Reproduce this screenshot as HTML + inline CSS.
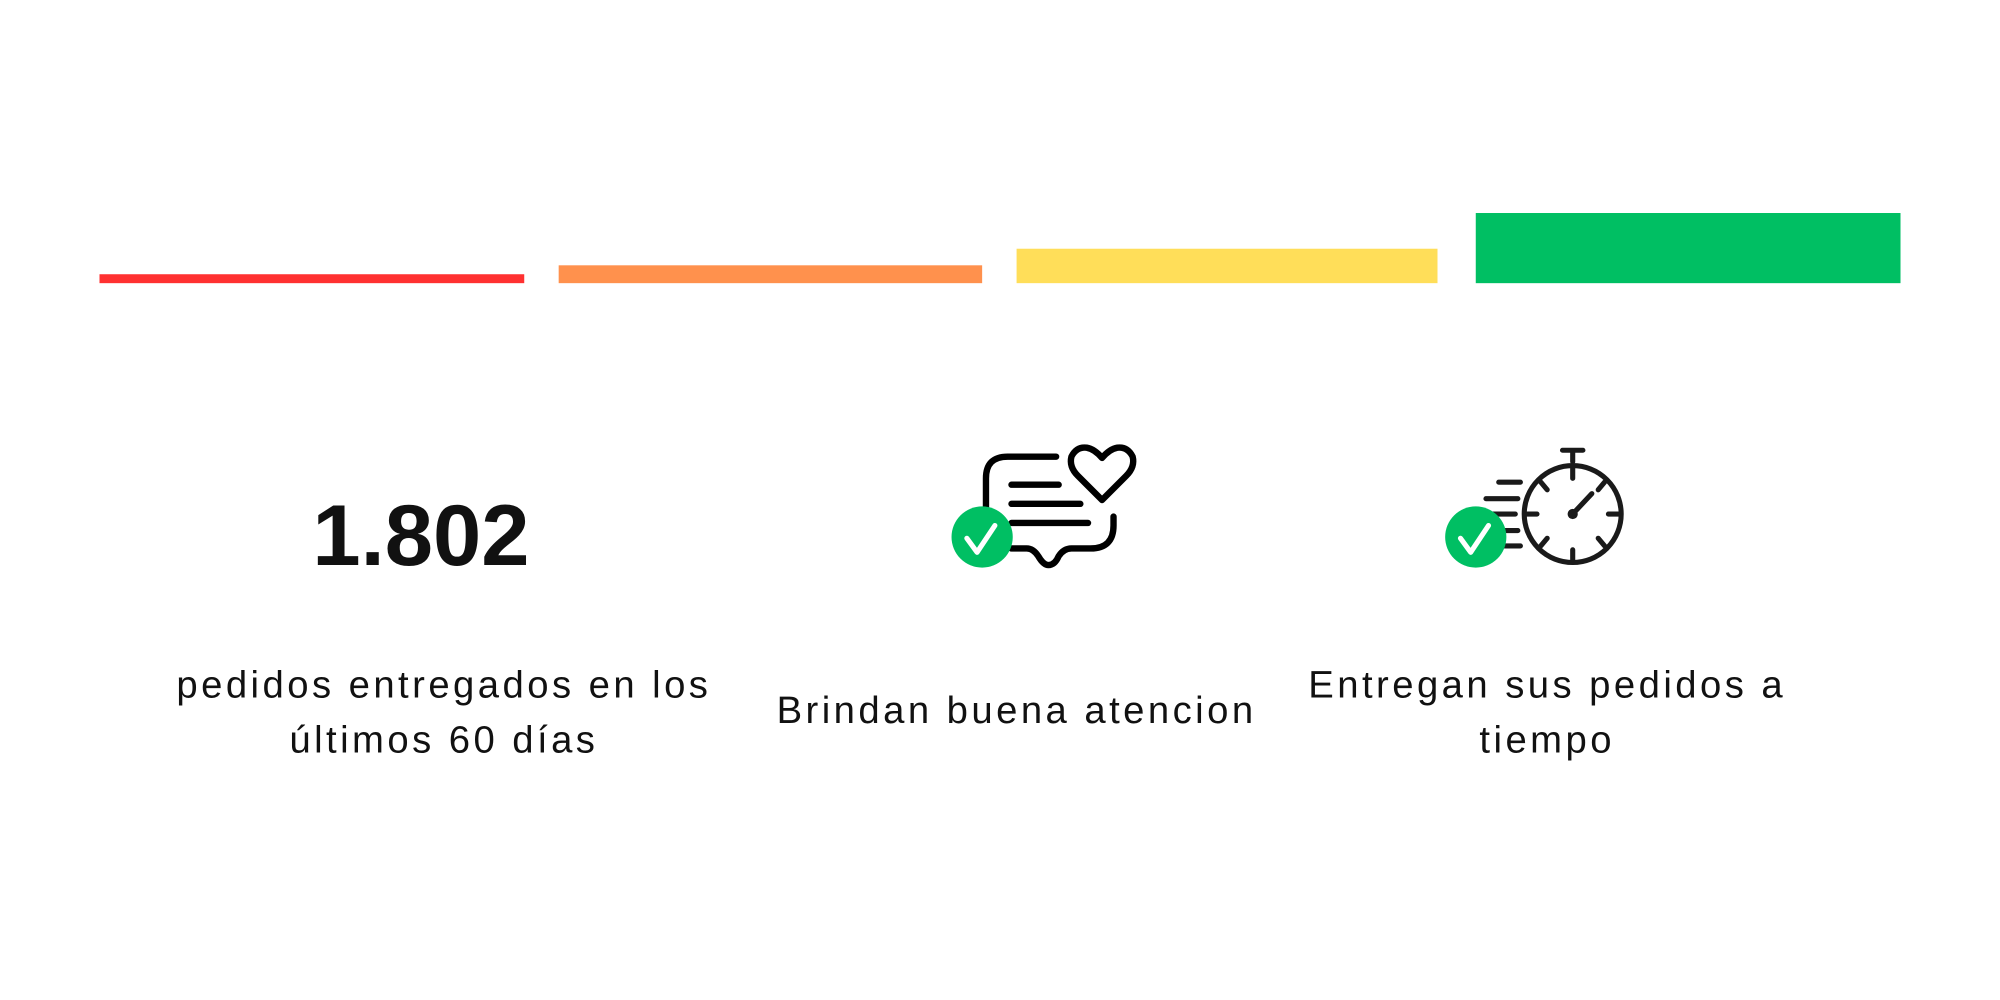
<!DOCTYPE html>
<html><head><meta charset="utf-8"><style>
html,body{margin:0;padding:0;background:#fff;}
#w{width:2000px;height:1000px;overflow:hidden;position:relative;}
#c{width:1568px;height:784px;position:absolute;left:0;top:0;transform:scale(1.27551);transform-origin:0 0;}
.b{position:absolute;}
.t{position:absolute;font-family:"Liberation Sans",sans-serif;color:#111;text-align:center;font-size:30px;letter-spacing:2.7px;line-height:43px;white-space:nowrap;}
</style></head><body><div id="w"><div id="c">
<div class="b" style="left:78px;top:215px;width:333px;height:7px;background:#ff3131"></div>
<div class="b" style="left:438px;top:208px;width:332px;height:14px;background:#ff914d"></div>
<div class="b" style="left:797px;top:195px;width:330px;height:27px;background:#ffde59"></div>
<div class="b" style="left:1157px;top:167px;width:333px;height:55px;background:#00bf63"></div>
<div class="t" style="left:180px;top:380px;width:300px;font-size:68px;font-weight:bold;line-height:80px;letter-spacing:0">1.802</div>
<div class="t" style="left:98px;top:516px;width:500px">pedidos entregados en los<br>últimos 60 días</div>
<div class="t" style="left:547px;top:536px;width:500px">Brindan buena atencion</div>
<div class="t" style="left:963px;top:516px;width:500px">Entregan sus pedidos a<br>tiempo</div>
<svg class="b" style="left:0;top:0" width="1568" height="784" viewBox="0 0 1568 784">
<g fill="none" stroke="#000" stroke-width="5" stroke-linecap="round" stroke-linejoin="round">
<path d="M828 358 H790 Q773 358 773 375 V402"/>
<path d="M793 430 H805 Q810 430 814 436 Q818 443 822 443 Q827 443 830 436 Q834 430 840 430 H855 Q873 430 873 412 V405"/>
<path d="M793 380 H830 M793 395 H847 M793 410 H853"/>
<path d="M864 392 L845 373 Q838 366 840 358 Q844 350 852 351 Q858 352 864 359 Q870 352 876 351 Q884 350 888 358 Q890 366 883 373 Z"/>
</g>
<g fill="none" stroke="#1a1a1a" stroke-width="4" stroke-linecap="round">
<circle cx="1233" cy="403" r="38"/>
<path d="M1225 353 H1241 M1233 353 V362"/>
<path d="M1233 367 V375 M1233 431 V439 M1197 403 H1205 M1261 403 H1269"/>
<path d="M1208 378 L1213 384 M1258 378 L1253 384 M1208 428 L1213 422 M1258 428 L1253 422"/>
<path d="M1233 403 L1248 387"/>
<path d="M1175 378 H1192 M1165 391 H1190 M1170 403 H1188 M1172 416 H1190 M1175 428 H1192"/>
</g>
<circle cx="1233" cy="403" r="4" fill="#1a1a1a"/>
<circle cx="770" cy="421" r="24" fill="#00bf63"/>
<path d="M758 422 L766 433 L780 412" fill="none" stroke="#fff" stroke-width="4" stroke-linecap="round" stroke-linejoin="round"/>
<circle cx="1157" cy="421" r="24" fill="#00bf63"/>
<path d="M1145 422 L1153 433 L1167 412" fill="none" stroke="#fff" stroke-width="4" stroke-linecap="round" stroke-linejoin="round"/>
</svg>
</div></div></body></html>
